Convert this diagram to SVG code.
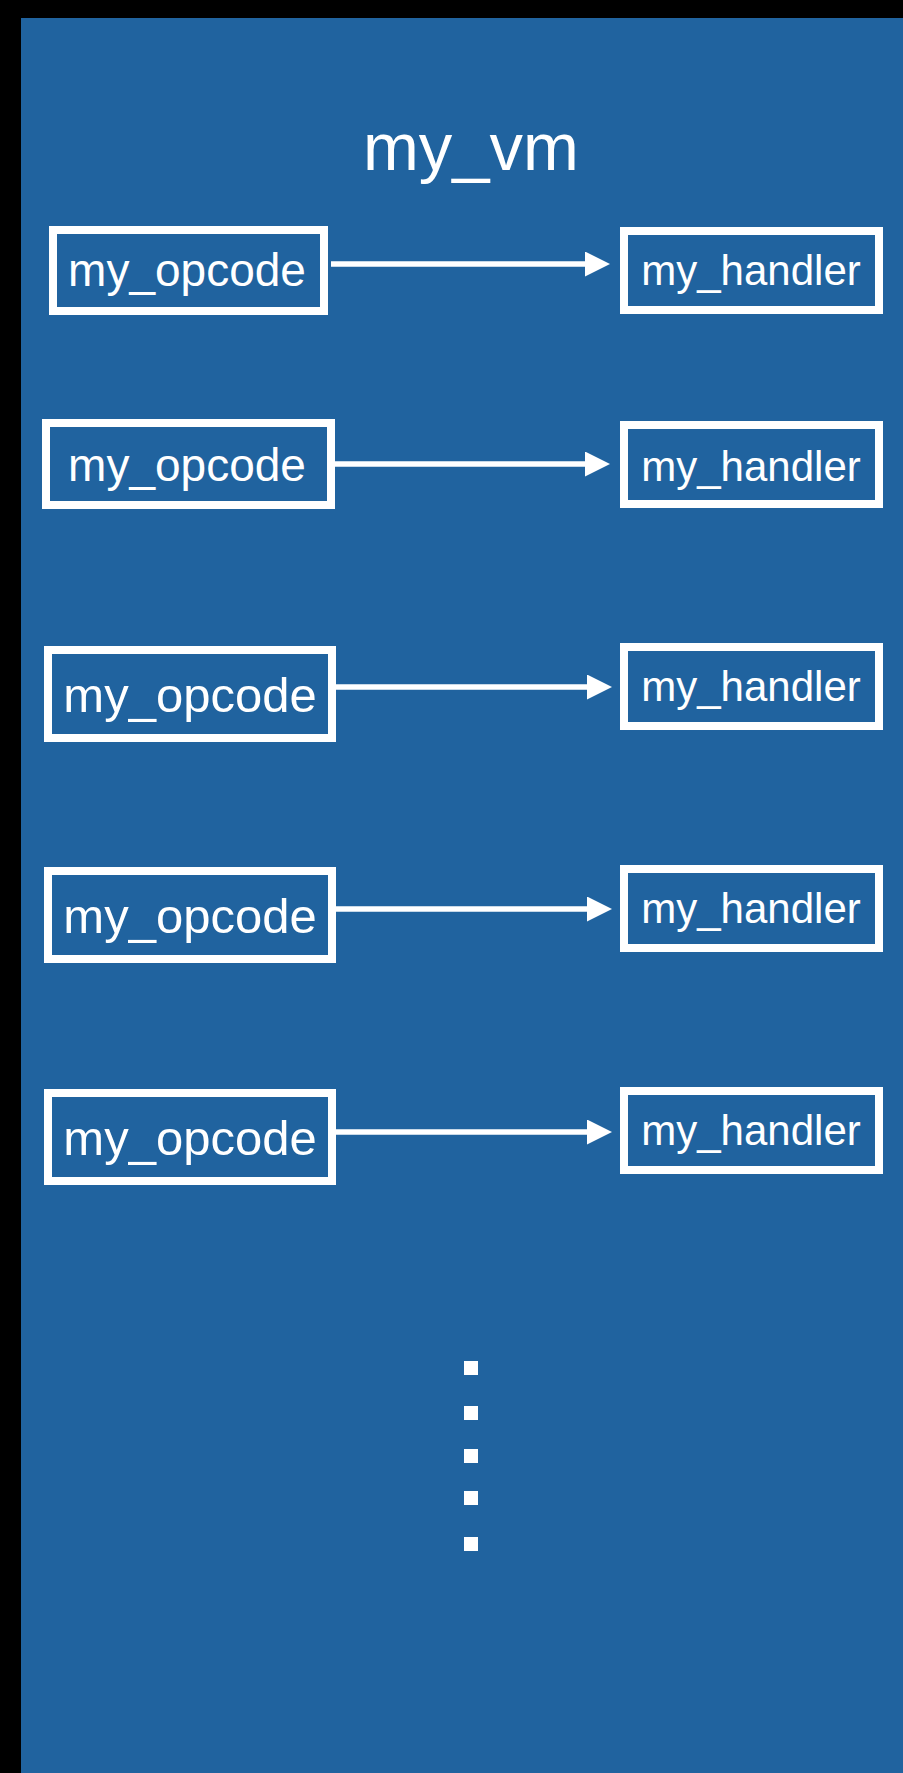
<svg xmlns="http://www.w3.org/2000/svg" width="903" height="1773" viewBox="0 0 903 1773">
<style>
.box{fill:none;stroke:#fff;stroke-width:8}
.lbl{fill:#fff;font-family:"Liberation Sans",Arial,sans-serif;text-anchor:middle}
.op{font-size:46px}
.op2{font-size:49px}
.hd{font-size:42px}
.conn{stroke:#fff;stroke-width:5.5;marker-end:url(#ah)}
.dot{fill:#fff}
</style>
<defs>
<marker id="ah" markerUnits="userSpaceOnUse" markerWidth="26" markerHeight="26" refX="0" refY="12.5" orient="auto">
<path d="M0,0 L25,12.5 L0,25 Z" fill="#fff"/>
</marker>
</defs>
<rect x="0" y="0" width="903" height="1773" fill="#000"/>
<rect x="21" y="18" width="882" height="1755" fill="#20639f"/>
<text class="lbl" x="471" y="170" style="font-size:67px">my_vm</text>
<g id="opcode1"><rect class="box" x="53" y="230" width="271" height="81"/><text class="lbl op" x="187" y="286">my_opcode</text></g>
<g id="handler1"><rect class="box" x="624" y="231" width="255" height="79"/><text class="lbl hd" x="751" y="285">my_handler</text></g>
<g id="opcode2"><rect class="box" x="46" y="423" width="285" height="82"/><text class="lbl op" x="187" y="481">my_opcode</text></g>
<g id="handler2"><rect class="box" x="624" y="425" width="255" height="79"/><text class="lbl hd" x="751" y="481">my_handler</text></g>
<g id="opcode3"><rect class="box" x="48" y="650" width="284" height="88"/><text class="lbl op2" x="190" y="712">my_opcode</text></g>
<g id="handler3"><rect class="box" x="624" y="647" width="255" height="79"/><text class="lbl hd" x="751" y="701">my_handler</text></g>
<g id="opcode4"><rect class="box" x="48" y="871" width="284" height="88"/><text class="lbl op2" x="190" y="933">my_opcode</text></g>
<g id="handler4"><rect class="box" x="624" y="869" width="255" height="79"/><text class="lbl hd" x="751" y="923">my_handler</text></g>
<g id="opcode5"><rect class="box" x="48" y="1093" width="284" height="88"/><text class="lbl op2" x="190" y="1155">my_opcode</text></g>
<g id="handler5"><rect class="box" x="624" y="1091" width="255" height="79"/><text class="lbl hd" x="751" y="1145">my_handler</text></g>
<g id="connectors">
<line class="conn" x1="331" y1="264" x2="585" y2="264"/>
<line class="conn" x1="335" y1="464" x2="585" y2="464"/>
<line class="conn" x1="336" y1="687" x2="587" y2="687"/>
<line class="conn" x1="336" y1="909" x2="587" y2="909"/>
<line class="conn" x1="336" y1="1132" x2="587" y2="1132"/>
</g>
<g id="ellipsis">
<rect class="dot" x="464" y="1361" width="14" height="14"/>
<rect class="dot" x="464" y="1406" width="14" height="14"/>
<rect class="dot" x="464" y="1449" width="14" height="14"/>
<rect class="dot" x="464" y="1491" width="14" height="14"/>
<rect class="dot" x="464" y="1537" width="14" height="14"/>
</g>
</svg>
